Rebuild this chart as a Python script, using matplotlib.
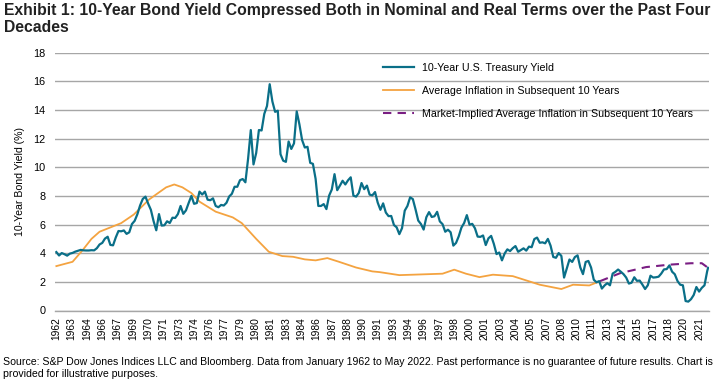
import matplotlib
matplotlib.use("Agg")
import matplotlib.pyplot as plt

START_YEAR = 1962


def midx(s):
    y, m = s.split("-")
    return (int(y) - START_YEAR) * 12 + int(m) - 1


# ---- Category axis labels (Excel labels every 17 months) ----
tick_dates = ["1962-01", "1963-06", "1964-11", "1966-04", "1967-09", "1969-02", "1970-07",
              "1971-12", "1973-05", "1974-10", "1976-03", "1977-08", "1979-01", "1980-06",
              "1981-11", "1983-04", "1984-09", "1986-02", "1987-07", "1988-12", "1990-05",
              "1991-10", "1993-03", "1994-08", "1996-01", "1997-06", "1998-11", "2000-04",
              "2001-09", "2003-02", "2004-07", "2005-12", "2007-05", "2008-10", "2010-03",
              "2011-08", "2013-01", "2014-06", "2015-11", "2017-04", "2018-09", "2020-02",
              "2021-07"]
tick_labels = [d[:4] for d in tick_dates]

# ---- 10-Year U.S. Treasury Yield, quarterly (Jan, Apr, Jul, Oct) from 1962-01 ----
yield_1960s = [4.08, 3.84, 4.01, 3.93, 3.83, 3.97, 4.02, 4.11, 4.17, 4.23, 4.20, 4.19,
               4.19, 4.21, 4.20, 4.35, 4.61, 4.72, 5.02, 5.15, 4.58, 4.55, 5.10, 5.55,
               5.53, 5.59, 5.35, 5.46, 6.04, 6.26, 6.72, 7.33]
yield_1970s = [7.79, 7.95, 7.46, 7.03, 6.24, 5.60, 6.73, 5.93, 5.95, 6.23, 6.11, 6.48,
               6.46, 6.73, 7.30, 6.75, 6.99, 7.51, 8.00, 7.45, 7.50, 8.30, 8.10, 8.30,
               7.74, 7.70, 7.83, 7.30, 7.21, 7.37, 7.33, 7.52, 7.96, 8.15, 8.64, 8.64,
               9.10, 9.18, 8.95, 10.60]
yield_1980s = [12.60, 10.20, 11.00, 12.60, 12.57, 13.73, 14.28, 15.80, 14.59, 13.87, 13.95, 10.91,
               10.46, 10.38, 11.80, 11.28, 11.67, 13.90, 13.00, 11.90, 11.38, 11.43, 10.31, 10.24,
               9.19, 7.30, 7.30, 7.43, 7.08, 8.02, 8.45, 9.52, 8.40, 8.72, 9.06, 8.80,
               9.09, 9.30, 8.02, 7.95]
yield_1990s = [8.21, 8.90, 8.47, 8.72, 8.09, 8.04, 8.27, 7.53, 7.03, 7.48, 6.84, 6.59,
               6.60, 5.97, 5.81, 5.33, 5.75, 6.97, 7.30, 7.90, 7.78, 7.06, 6.28, 6.04,
               5.65, 6.51, 6.87, 6.53, 6.58, 6.89, 6.22, 6.03, 5.50, 5.64, 5.46, 4.53,
               4.72, 5.18, 5.79, 6.11]
yield_2000s = [6.66, 5.99, 6.05, 5.74, 5.16, 5.14, 5.24, 4.57, 5.04, 5.21, 4.65, 3.94,
               4.05, 3.50, 3.98, 4.27, 4.15, 4.35, 4.50, 4.10, 4.22, 4.34, 4.18, 4.46,
               4.42, 4.99, 5.09, 4.73, 4.76, 4.69, 5.00, 4.53, 3.74, 3.68, 4.01, 3.81,
               2.30, 2.93, 3.56, 3.39]
yield_2010s = [3.73, 3.85, 3.01, 2.54, 3.39, 3.46, 3.00, 2.15, 1.97, 2.05, 1.53, 1.75,
               1.91, 1.76, 2.58, 2.70, 2.86, 2.71, 2.54, 2.30, 1.88, 1.94, 2.32, 2.07,
               2.09, 1.81, 1.50, 1.76, 2.43, 2.30, 2.32, 2.36, 2.58, 2.87, 2.89, 3.15,
               2.71, 2.53, 2.06, 1.80]
yield_2020s = [1.76, 0.66, 0.62, 0.79, 1.08, 1.64, 1.32, 1.58, 1.76, 2.75]
yield_last_date = "2022-05"
yield_last_value = 2.98

# ---- Average inflation in subsequent 10 years ----
infl_dates = ["1962-01", "1963-07", "1964-06", "1965-04", "1966-01", "1967-01", "1968-01",
              "1969-03", "1970-08", "1971-06", "1972-03", "1972-12", "1973-09", "1974-07",
              "1975-04", "1976-10", "1978-05", "1979-03", "1980-07", "1981-09", "1982-12",
              "1983-12", "1985-01", "1986-01", "1987-02", "1988-03", "1989-10", "1991-04",
              "1991-12", "1993-10", "1995-01", "1997-10", "1998-11", "1999-12", "2001-03",
              "2002-06", "2004-04", "2005-07", "2006-10", "2008-10", "2009-11", "2011-05",
              "2012-05"]
infl_values = [3.1, 3.4, 4.2, 5.0, 5.5, 5.8, 6.1,
               6.7, 7.75, 8.2, 8.6, 8.8, 8.6, 8.2,
               7.6, 6.9, 6.5, 6.1, 5.0, 4.1, 3.8,
               3.75, 3.57, 3.5, 3.66, 3.4, 3.0, 2.73,
               2.68, 2.47, 2.5, 2.57, 2.85, 2.57, 2.33,
               2.5, 2.4, 2.1, 1.8, 1.5, 1.8, 1.75,
               2.05]

# ---- Market-implied average inflation in subsequent 10 years ----
mkt_dates = ["2012-05", "2014-03", "2016-08", "2018-10", "2020-10", "2021-10", "2022-05"]
mkt_values = [2.05, 2.6, 3.03, 3.2, 3.3, 3.3, 2.98]

series_names = ["10-Year U.S. Treasury Yield",
                "Average Inflation in Subsequent 10 Years",
                "Market-Implied Average Inflation in Subsequent 10 Years"]

title = ("Exhibit 1: 10-Year Bond Yield Compressed Both in Nominal and Real Terms over the Past Four\n"
         "Decades")
footnote = ("Source: S&P Dow Jones Indices LLC and Bloomberg. Data from January 1962 to May 2022. "
            "Past performance is no guarantee of future results. Chart is\n"
            "provided for illustrative purposes.")
ylabel = "10-Year Bond Yield (%)"

# ---------------------------------------------------------------
yield_values = yield_1960s + yield_1970s + yield_1980s + yield_1990s + yield_2000s + yield_2010s + yield_2020s
yield_x = [3 * k for k in range(len(yield_values))] + [midx(yield_last_date)]
yield_values = yield_values + [yield_last_value]

plt.rcParams["font.family"] = ["Liberation Sans", "DejaVu Sans"]

TEAL = "#0A6F88"
ORANGE = "#F4A340"
PURPLE = "#7A1E83"
GRID = "#A6A6A6"
TEXT = "#000000"

fig = plt.figure(figsize=(7.24, 3.86), dpi=100)
ax = fig.add_axes([55 / 724, 75.5 / 386, 654 / 724, 257.8 / 386])

ax.plot(yield_x, yield_values, color=TEAL, lw=1.6, label=series_names[0], zorder=3)
ax.plot([midx(d) for d in infl_dates], infl_values, color=ORANGE, lw=1.3,
        label=series_names[1], zorder=2)
ax.plot([midx(d) for d in mkt_dates], mkt_values, color=PURPLE, lw=1.5,
        linestyle=(0, (4, 3)), label=series_names[2], zorder=2)

ax.set_xlim(-1.5, 725)
ax.set_ylim(0, 18)
ax.set_yticks(range(0, 19, 2))
ax.yaxis.grid(True, color=GRID, lw=1.0)
ax.set_axisbelow(True)
for s in ["top", "right", "left"]:
    ax.spines[s].set_visible(False)
ax.spines["bottom"].set_color(GRID)
ax.spines["bottom"].set_linewidth(1.0)

ax.set_xticks([midx(d) for d in tick_dates])
ax.set_xticklabels(tick_labels, rotation=90, fontsize=7.4)
ax.tick_params(axis="x", length=0, pad=5)
ax.tick_params(axis="y", length=0, pad=7, labelsize=7.8)
ax.set_ylabel(ylabel, fontsize=7.6, labelpad=6)

leg = ax.legend(loc="upper left", bbox_to_anchor=(383 / 724, (386 - 63) / 386),
                bbox_transform=fig.transFigure, frameon=False, fontsize=7.7,
                handlelength=2.9, handletextpad=0.7, labelspacing=1.2,
                borderpad=0, borderaxespad=0)

fig.text(4 / 724, 1 - 3 / 386, title, ha="left", va="top", fontsize=11.3,
         fontweight="bold", linespacing=1.15, color="#222222")
fig.text(3 / 724, 1 - 357 / 386, footnote, ha="left", va="top", fontsize=7.58,
         linespacing=1.22, color=TEXT)

fig.savefig("out.png", dpi=100)
